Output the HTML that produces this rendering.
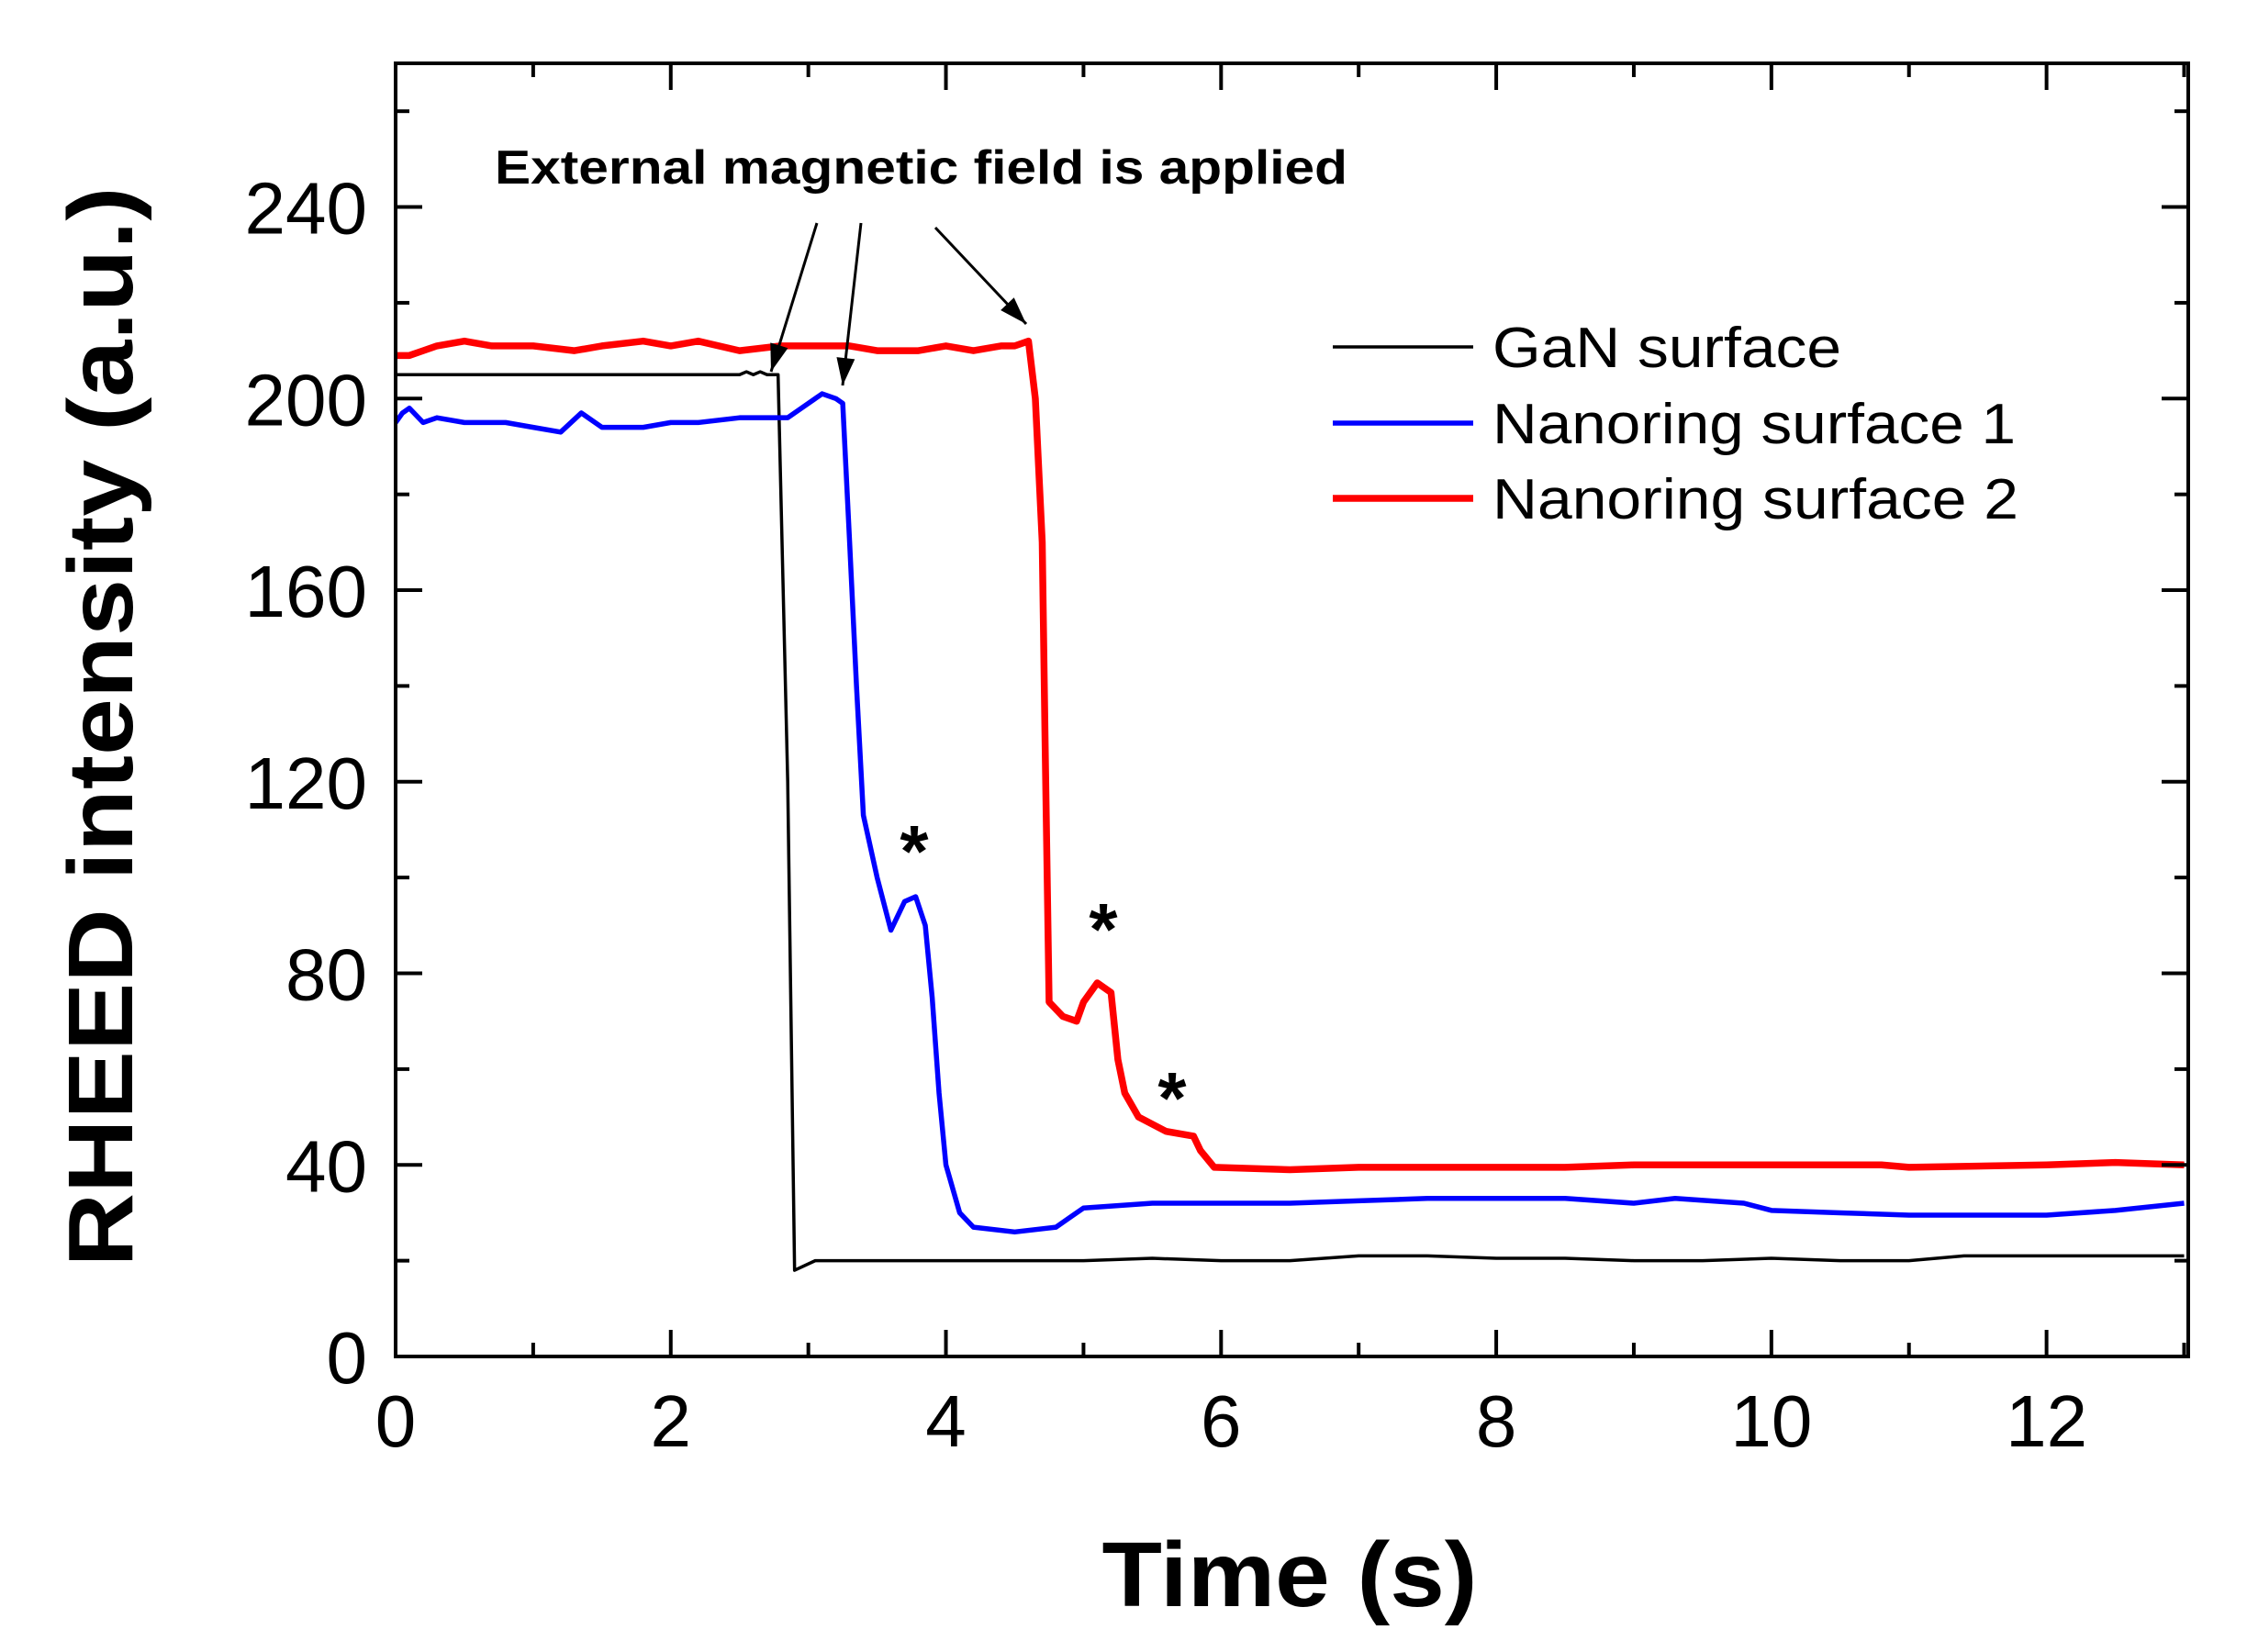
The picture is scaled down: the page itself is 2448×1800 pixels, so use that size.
<!DOCTYPE html>
<html><head><meta charset="utf-8"><style>html,body{margin:0;padding:0;background:#fff}svg{display:block}</style></head>
<body>
<svg id="chart" width="2448" height="1800" viewBox="0 0 2448 1800" xmlns="http://www.w3.org/2000/svg" font-family="Liberation Sans, sans-serif">
<g id="plot"></g>
</svg>
<script>
const xTicks=[0,2,4,6,8,10,12];
const yTicks=[0,40,80,120,160,200,240];
const gaT=[0,0.5,1,1.5,2,2.4,2.5,2.55,2.6,2.65,2.7,2.75,2.78,2.85,2.9,3.05,3.15,4,4.5,5,5.5,6,6.5,7,7.5,8,8.5,9,9.5,10,10.5,11,11.4,12,12.5,13];
const gaV=[205,205,205,205,205,205,205,205.6,205,205.6,205,205,205,120,18,20,20,20,20,20,20.5,20,20,21,21,20.5,20.5,20,20,20.5,20,20,21,21,21,21];
const n1T=[0,0.05,0.1,0.2,0.3,0.5,0.8,1,1.2,1.35,1.5,1.8,2,2.2,2.5,2.85,3.0,3.1,3.2,3.25,3.3,3.35,3.4,3.5,3.6,3.7,3.78,3.85,3.9,3.95,4.0,4.1,4.2,4.5,4.8,4.9,5.0,5.5,6,6.5,7,7.5,8,8.5,9,9.3,9.8,10,10.5,11,11.5,12,12.5,13];
const n1V=[195,197,198,195,196,195,195,194,193,197,194,194,195,195,196,196,199,201,200,199,170,140,113,100,89,95,96,90,75,55,40,30,27,26,27,29,31,32,32,32,32.5,33,33,33,32,33,32,30.5,30,29.5,29.5,29.5,30.5,32];
const n2T=[0,0.1,0.2,0.3,0.5,0.7,1,1.3,1.5,1.8,2,2.2,2.5,2.8,3,3.3,3.5,3.8,4,4.2,4.4,4.5,4.6,4.65,4.7,4.72,4.75,4.85,4.95,5.0,5.1,5.2,5.25,5.3,5.4,5.6,5.8,5.85,5.95,6.5,7,7.5,8,8.5,9,10,10.8,11,12,12.5,13];
const n2V=[209,209,210,211,212,211,211,210,211,212,211,212,210,211,211,211,210,210,211,210,211,211,212,200,170,130,74,71,70,74,78,76,62,55,50,47,46,43,39.5,39,39.5,39.5,39.5,39.5,40,40,40,39.5,40,40.5,40];
const xMin=0,xMax=13.03,yMin=0,yMax=270;
const L=431,R=2384,T=69,B=1478;
const X=v=>L+(v-xMin)/(xMax-xMin)*(R-L);
const Y=v=>B-(v-yMin)/(yMax-yMin)*(B-T);
const NS='http://www.w3.org/2000/svg';
const g=document.getElementById('plot');
function mk(tag,at,txt){const e=document.createElementNS(NS,tag);for(const k in at)e.setAttribute(k,at[k]);if(txt!==undefined)e.textContent=txt;g.appendChild(e);return e;}
function poly(t,v,color,w,name){const p=mk('polyline',{points:t.map((x,i)=>X(x)+','+Y(v[i])).join(' '),fill:'none',stroke:color,'stroke-width':w,'stroke-linejoin':'round'});

}
poly(gaT,gaV,'#000',3.5,'series-gan-surface');
poly(n1T,n1V,'#0000ff',5.5,'series-nanoring-surface-1');
poly(n2T,n2V,'#ff0000',7.5,'series-nanoring-surface-2');
const fr=mk('rect',{x:L,y:T,width:R-L,height:B-T,fill:'none',stroke:'#000','stroke-width':4});


for(let t=0;t<=13;t+=1){const major=t%2===0;const len=major?29:15;const x=X(t);
mk('line',{x1:x,y1:B,x2:x,y2:B-len,stroke:'#000','stroke-width':4});
mk('line',{x1:x,y1:T,x2:x,y2:T+len,stroke:'#000','stroke-width':4});}
xTicks.forEach(t=>{const e=mk('text',{x:X(t),y:1576,'font-size':80,'text-anchor':'middle'},String(t));

});
for(let v=20;v<=260;v+=20){const major=v%40===0;const len=major?29:15;const y=Y(v);
mk('line',{x1:L,y1:y,x2:L+len,y2:y,stroke:'#000','stroke-width':4});
mk('line',{x1:R,y1:y,x2:R-len,y2:y,stroke:'#000','stroke-width':4});}
yTicks.forEach(v=>{const e=mk('text',{x:400,y:Y(v)+29,'font-size':80,'text-anchor':'end'},String(v));

});
const xt=mk('text',{x:1405,y:1750,'font-size':100,'font-weight':'bold','text-anchor':'middle',textLength:409,lengthAdjust:'spacingAndGlyphs'},'Time (s)');


const yt=mk('text',{x:0,y:0,'font-size':100,'font-weight':'bold','text-anchor':'middle',textLength:1177,lengthAdjust:'spacingAndGlyphs',transform:'translate(144,792) rotate(-90)'},'RHEED intensity (a.u.)');


const an=mk('text',{x:539,y:200,'font-size':52,'font-weight':'bold',textLength:929,lengthAdjust:'spacingAndGlyphs'},'External magnetic field is applied');


[[890,243,840,405],[938,243,918,420],[1019,248,1118,353]].forEach(a=>{
const [x1,y1,x2,y2]=a;mk('line',{x1,y1,x2,y2,stroke:'#000','stroke-width':3});
const ang=Math.atan2(y2-y1,x2-x1),s=30,w=10;
const bx=x2-s*Math.cos(ang),by=y2-s*Math.sin(ang);
const h=mk('polygon',{points:`${x2},${y2} ${bx+w*Math.sin(ang)},${by-w*Math.cos(ang)} ${bx-w*Math.sin(ang)},${by+w*Math.cos(ang)}`,fill:'#000'});

});
[[996,955],[1202,1040],[1277,1224]].forEach(p=>{const e=mk('text',{x:p[0],y:p[1],'font-size':80,'font-weight':'bold','text-anchor':'middle'},'*');

});
[['GaN surface','#000',3.5,378,380],['Nanoring surface 1','#0000ff',5.5,461,570],['Nanoring surface 2','#ff0000',7.5,543,573]].forEach(l=>{
const ln=mk('line',{x1:1452,y1:l[3],x2:1605,y2:l[3],stroke:l[1],'stroke-width':l[2]});


const tx=mk('text',{x:1626,y:l[3]+22,'font-size':62,textLength:l[4],lengthAdjust:'spacingAndGlyphs'},l[0]);

});
</script>
</body></html>
